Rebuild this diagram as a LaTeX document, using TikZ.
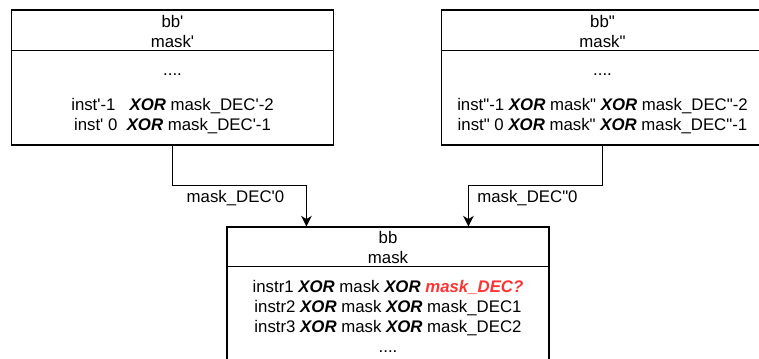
\documentclass[tikz,border=0pt]{standalone}
\usepackage{fontspec}
\setmainfont{Liberation Sans}
\usepackage{tikz}
\usetikzlibrary{arrows.meta,calc}
\definecolor{hilite}{RGB}{255,51,51}
\newcommand{\tick}{\textquotesingle}
\newcommand{\dtick}{\textquotedbl}
\newcommand{\xor}{\textbf{\textit{XOR}}}
\tikzset{
	blk/.style={draw, line width=0.8pt, minimum width=322*0.75pt, inner sep=0pt},
	txt/.style={align=center, inner sep=0pt, font=\fontsize{12.6}{15}\selectfont},
	conn/.style={draw, line width=0.8pt, -{Stealth[length=8pt, width=8pt, inset=2.5pt]}},
	lbl/.style={txt, yshift=-9.75pt}
}
\begin{document}
\begin{tikzpicture}[x=0.75pt, y=-0.75pt]
			\clip (0,0) rectangle (759,358);
			\node[blk, minimum height=135*0.75pt] (bbl) at (172.5,77.5) {};
			\node[blk, minimum height=135*0.75pt] (bbr) at (602.5,77.5) {};
			\node[blk, minimum height=173*0.75pt] (bb) at (388,313.5) {};
			\draw[line width=0.8pt] ($(bbl.north west)+(0,41)$) -- ($(bbl.north east)+(0,41)$);
			\draw[line width=0.8pt] ($(bbr.north west)+(0,41)$) -- ($(bbr.north east)+(0,41)$);
			\draw[line width=0.8pt] ($(bb.north west)+(0,40)$) -- ($(bb.north east)+(0,40)$);
			\node[txt] (hdl) at (172.5,31.5) {bb\tick\\mask\tick};
			\node[txt] (bdl) at (172.5,104) {....\\[11pt]inst\tick-1\ \ \ \xor{} mask\_DEC\tick-2\\inst\tick{} 0\ \ \xor{} mask\_DEC\tick-1};
			\node[txt] (hdr) at (602.5,31.5) {bb\dtick\\mask\dtick};
			\node[txt] (bdr) at (602.5,104) {....\\[11pt]inst\dtick-1 \xor{} mask\dtick{} \xor{} mask\_DEC\dtick-2\\inst\dtick{} 0 \xor{} mask\dtick{} \xor{} mask\_DEC\dtick-1};
			\node[txt] (hd) at (388,247) {bb\\mask};
			\node[txt] (bd) at (388,316) {instr1 \xor{} mask \xor{} \textcolor{hilite}{\textbf{\textit{mask\_DEC?}}}\\instr2 \xor{} mask \xor{} mask\_DEC1\\instr3 \xor{} mask \xor{} mask\_DEC2\\....};
			\coordinate (inl) at ($(bb.north west)+(80,0)$);
			\coordinate (inr) at ($(bb.north west)+(242,0)$);
			\draw[conn] (bbl.south) |- node[lbl, pos=0.735]{mask\_DEC\tick0} ($(inl)+(0,-41)$) -- (inl);
			\draw[conn] (bbr.south) |- node[lbl, pos=0.78]{mask\_DEC\dtick0} ($(inr)+(0,-41)$) -- (inr);
\end{tikzpicture}
\end{document}
